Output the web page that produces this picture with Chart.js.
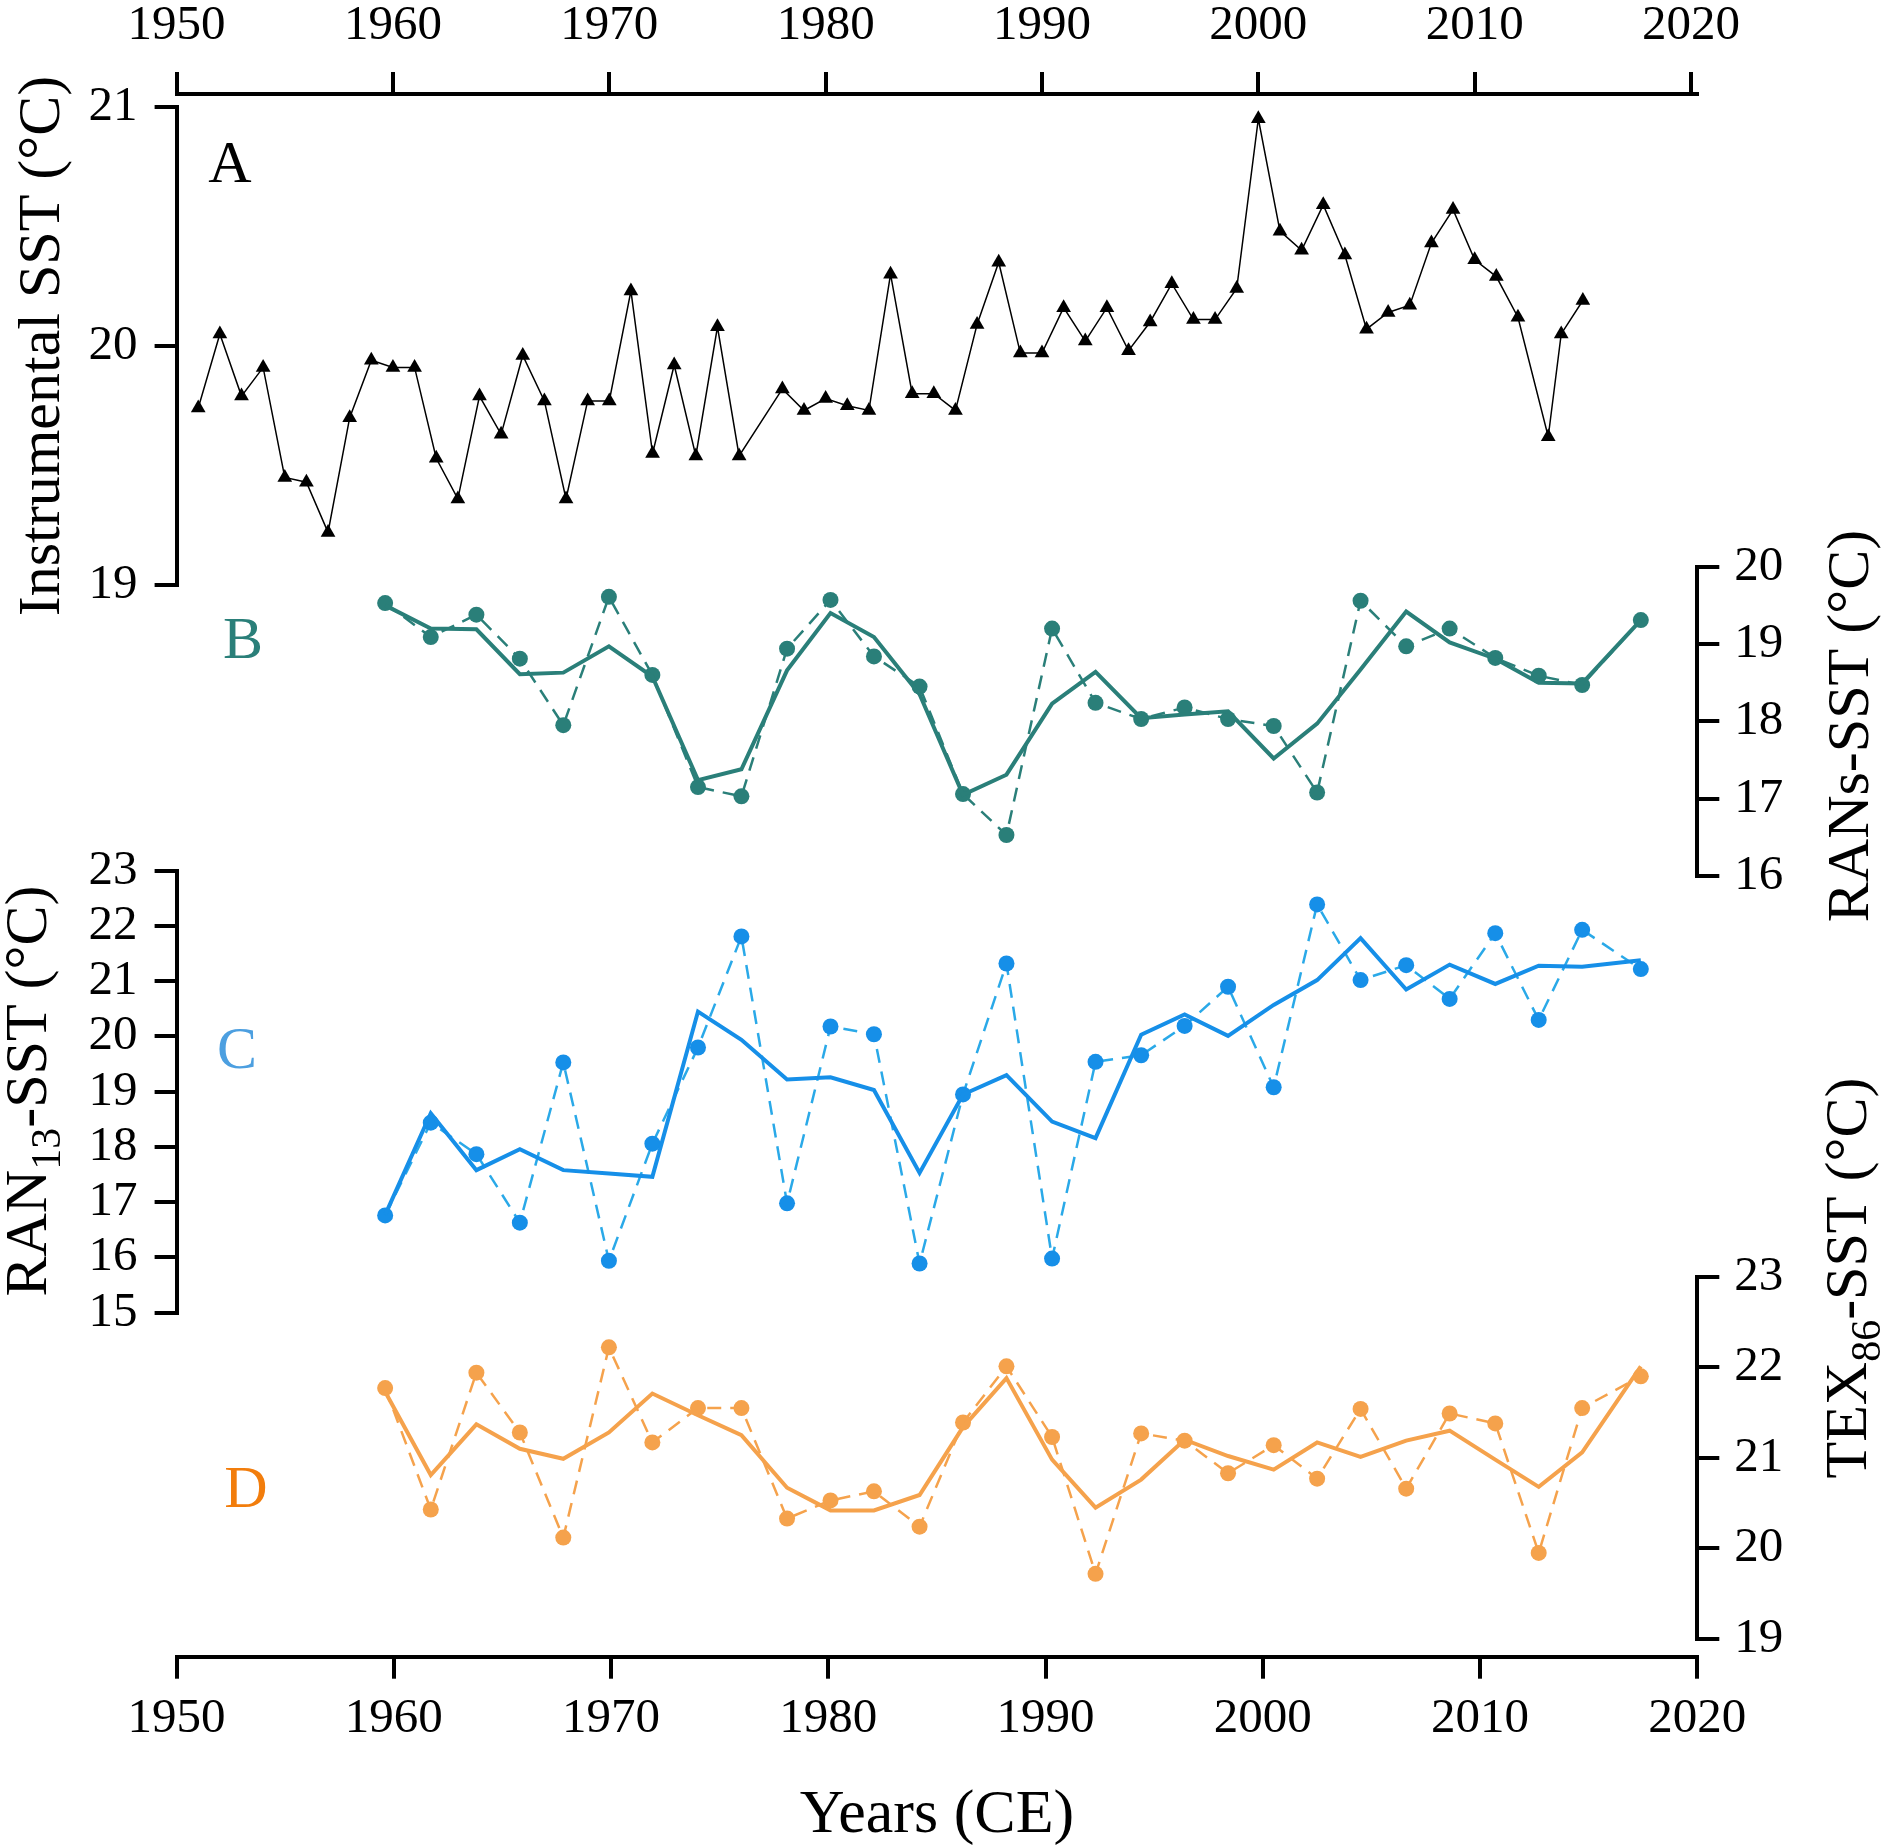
<!DOCTYPE html>
<html>
<head>
<meta charset="utf-8">
<title>SST records</title>
<script src="https://cdn.jsdelivr.net/npm/chart.js@4.4.1/dist/chart.umd.min.js"></script>
<style>
  html, body { margin: 0; padding: 0; background: #fff; }
  #wrap { width: 1890px; height: 1847px; position: relative; }
</style>
</head>
<body>
<div id="wrap"><canvas id="sst-chart"></canvas></div>
<script>
// panel A: instrumental record, one value per year (1977 missing)
const instYears = [1951, 1952, 1953, 1954, 1955, 1956, 1957, 1958, 1959, 1960,
  1961, 1962, 1963, 1964, 1965, 1966, 1967, 1968, 1969, 1970,
  1971, 1972, 1973, 1974, 1975, 1976, 1978, 1979, 1980,
  1981, 1982, 1983, 1984, 1985, 1986, 1987, 1988, 1989, 1990,
  1991, 1992, 1993, 1994, 1995, 1996, 1997, 1998, 1999, 2000,
  2001, 2002, 2003, 2004, 2005, 2006, 2007, 2008, 2009, 2010,
  2011, 2012, 2013.4, 2014, 2015];
const instSst = [19.74, 20.05, 19.79, 19.91, 19.45, 19.43, 19.22, 19.70, 19.94, 19.91,
  19.91, 19.53, 19.36, 19.79, 19.63, 19.96, 19.77, 19.36, 19.77, 19.77,
  20.23, 19.55, 19.92, 19.54, 20.08, 19.54, 19.82, 19.73, 19.78,
  19.75, 19.73, 20.30, 19.80, 19.80, 19.73, 20.09, 20.35, 19.97, 19.97,
  20.16, 20.02, 20.16, 19.98, 20.10, 20.26, 20.11, 20.11, 20.24, 20.95,
  20.48, 20.40, 20.59, 20.38, 20.07, 20.14, 20.17, 20.43, 20.57, 20.36,
  20.29, 20.12, 19.62, 20.05, 20.19];

// panels B-D: sediment samples (same ages for the three proxies)
const sampleYears = [1959.6, 1961.7, 1963.8, 1965.8, 1967.8, 1969.9, 1971.9, 1974.0, 1976.0, 1978.1,
  1980.1, 1982.1, 1984.2, 1986.2, 1988.2, 1990.3, 1992.3, 1994.4, 1996.4, 1998.4,
  2000.5, 2002.5, 2004.5, 2006.6, 2008.6, 2010.7, 2012.7, 2014.7, 2017.4];

const ransSst = [19.53, 19.09, 19.38, 18.81, 17.95, 19.61, 18.60, 17.15, 17.03, 18.94,
  19.57, 18.84, 18.45, 17.06, 16.53, 19.20, 18.24, 18.03, 18.18, 18.03,
  17.94, 17.08, 19.56, 18.97, 19.20, 18.82, 18.59, 18.47, 19.31];
const ransSmooth = [19.50, 19.20, 19.19, 18.61, 18.63, 18.97, 18.58, 17.24, 17.38, 18.66,
  19.40, 19.09, 18.35, 17.05, 17.31, 18.23, 18.64, 18.04, 18.09, 18.13,
  17.52, 17.97, 18.67, 19.42, 19.02, 18.81, 18.50, 18.49, 19.31];

const ran13Sst = [16.76, 18.44, 17.87, 16.63, 19.53, 15.94, 18.06, 19.80, 21.81, 16.98,
  20.18, 20.04, 15.89, 18.95, 21.32, 15.98, 19.54, 19.66, 20.19, 20.90,
  19.08, 22.39, 21.02, 21.29, 20.68, 21.87, 20.30, 21.93, 21.22];
const ran13Smooth = [16.77, 18.61, 17.58, 17.96, 17.58, 17.52, 17.46, 20.45, 19.94, 19.22,
  19.26, 19.03, 17.53, 18.95, 19.30, 18.46, 18.16, 20.03, 20.40, 20.01,
  20.57, 21.02, 21.78, 20.85, 21.30, 20.95, 21.28, 21.26, 21.38];

const tex86Sst = [21.77, 20.43, 21.94, 21.28, 20.12, 22.22, 21.17, 21.55, 21.55, 20.33,
  20.53, 20.63, 20.24, 21.39, 22.01, 21.23, 19.72, 21.27, 21.19, 20.83,
  21.14, 20.77, 21.54, 20.66, 21.49, 21.38, 19.95, 21.55, 21.90];
const tex86Smooth = [21.73, 20.81, 21.37, 21.10, 20.99, 21.28, 21.71, 21.47, 21.25, 20.67,
  20.42, 20.42, 20.59, 21.34, 21.88, 20.98, 20.45, 20.76, 21.20, 21.02,
  20.87, 21.17, 21.01, 21.19, 21.30, 20.98, 20.68, 21.06, 22.01];

// tick values
const yearTicks = [1950, 1960, 1970, 1980, 1990, 2000, 2010, 2020];
const ticksA = [19, 20, 21];
const ticksB = [16, 17, 18, 19, 20];
const ticksC = [15, 16, 17, 18, 19, 20, 21, 22, 23];
const ticksD = [19, 20, 21, 22, 23];

const serif = '"Liberation Serif", "Times New Roman", serif';
const TEAL = '#2a7f79';
const BLUE = '#168fe8';
const BLUE_DASH = '#2aa9e8';
const ORANGE = '#f5a24c';

// outer box sizes so the plot area lands where the figure has it
const LEFT_W = 176.6, RIGHT_W = 192.7, TOP_H = 94, BOTTOM_H = 190.3;

const toPoints = (xs, ys) => xs.map((x, i) => ({ x: x, y: ys[i] }));
const setTicks = vals => s => { s.ticks = vals.map(v => ({ value: v })); };

const axisLine = { display: true, color: '#000', width: 4 };
const axisGrid = { display: true, drawOnChartArea: false, drawTicks: true, tickLength: 22, lineWidth: 4, color: '#000' };
const tickFont = { family: serif, size: 49 };

function panelAxis(position, weight, stackWeight, vals) {
  return {
    type: 'linear',
    position: position,
    stack: 'panels',
    stackWeight: stackWeight,
    weight: weight,
    min: vals[0],
    max: vals[vals.length - 1],
    afterBuildTicks: setTicks(vals),
    afterFit: s => { s.width = position === 'left' ? LEFT_W : RIGHT_W; },
    border: axisLine,
    grid: axisGrid,
    ticks: { color: '#000', autoSkip: false, padding: position === 'left' ? 17 : 15, font: tickFont }
  };
}

// empty axes that only fill the gaps between the panels
function gapAxis(position, weight, stackWeight) {
  return {
    type: 'linear',
    position: position,
    stack: 'panels',
    stackWeight: stackWeight,
    weight: weight,
    min: 0,
    max: 1,
    afterFit: s => { s.width = position === 'left' ? LEFT_W : RIGHT_W; },
    border: { display: false },
    grid: { display: false },
    ticks: { display: false }
  };
}

const letters = [
  { text: 'A', x: 230, y: 166, color: '#000' },
  { text: 'B', x: 243, y: 642, color: TEAL },
  { text: 'C', x: 237, y: 1052, color: '#4c9fe0' },
  { text: 'D', x: 246, y: 1491, color: '#f27d0c' }
];
const sideTitles = [
  { parts: [['Instrumental SST (°C)']], x: 38.5, y: 346 },
  { parts: [['RANs-SST (°C)']], x: 1847.5, y: 726 },
  { parts: [['RAN'], ['13', true], ['-SST (°C)']], x: 26, y: 1091 },
  { parts: [['TEX'], ['86', true], ['-SST (°C)']], x: 1846, y: 1278 }
];

const panelText = {
  id: 'panelText',
  afterDraw(chart) {
    const ctx = chart.ctx;
    ctx.save();
    ctx.textAlign = 'center';
    ctx.textBaseline = 'middle';
    ctx.font = '60px ' + serif;
    letters.forEach(l => {
      ctx.fillStyle = l.color;
      ctx.fillText(l.text, l.x, l.y);
    });

    ctx.fillStyle = '#000';
    ctx.textAlign = 'left';
    ctx.textBaseline = 'alphabetic';
    sideTitles.forEach(t => {
      let total = 0;
      t.parts.forEach(p => {
        ctx.font = (p[1] ? '42px ' : '60px ') + serif;
        total += ctx.measureText(p[0]).width;
      });
      ctx.save();
      ctx.translate(t.x, t.y);
      ctx.rotate(-Math.PI / 2);
      let pos = -total / 2;
      t.parts.forEach(p => {
        ctx.font = (p[1] ? '42px ' : '60px ') + serif;
        ctx.fillText(p[0], pos, p[1] ? 34 : 20);
        pos += ctx.measureText(p[0]).width;
      });
      ctx.restore();
    });
    ctx.restore();
  }
};

function dashedSeries(label, values, yAxisID, lineColor, dotColor) {
  return {
    label: label,
    data: toPoints(sampleYears, values),
    xAxisID: 'x',
    yAxisID: yAxisID,
    borderColor: lineColor,
    borderWidth: 2.5,
    borderDash: [14, 9],
    pointRadius: 8,
    pointBorderWidth: 0,
    pointBackgroundColor: dotColor,
    fill: false,
    tension: 0
  };
}

function smoothSeries(label, values, yAxisID, color) {
  return {
    label: label,
    data: toPoints(sampleYears, values),
    xAxisID: 'x',
    yAxisID: yAxisID,
    borderColor: color,
    borderWidth: 4,
    pointRadius: 0,
    fill: false,
    tension: 0
  };
}

new Chart(document.getElementById('sst-chart'), {
  type: 'line',
  data: {
    datasets: [
      {
        label: 'Instrumental SST',
        data: toPoints(instYears, instSst),
        xAxisID: 'x2',
        yAxisID: 'yA',
        borderColor: '#000',
        borderWidth: 1.5,
        pointStyle: 'triangle',
        pointRadius: 8.5,
        pointBorderWidth: 0,
        pointBackgroundColor: '#000',
        fill: false,
        tension: 0
      },
      smoothSeries('RANs-SST smoothed', ransSmooth, 'yB', TEAL),
      dashedSeries('RANs-SST', ransSst, 'yB', TEAL, TEAL),
      smoothSeries('RAN13-SST smoothed', ran13Smooth, 'yC', BLUE),
      dashedSeries('RAN13-SST', ran13Sst, 'yC', BLUE_DASH, BLUE),
      smoothSeries('TEX86-SST smoothed', tex86Smooth, 'yD', ORANGE),
      dashedSeries('TEX86-SST', tex86Sst, 'yD', ORANGE, ORANGE)
    ]
  },
  options: {
    responsive: true,
    maintainAspectRatio: false,
    animation: false,
    events: [],
    layout: { padding: 0 },
    plugins: {
      legend: { display: false },
      tooltip: { enabled: false }
    },
    scales: {
      x: {
        type: 'linear',
        position: 'bottom',
        min: 1950,
        max: 2020,
        afterBuildTicks: setTicks(yearTicks),
        afterFit: s => { s.height = BOTTOM_H; },
        border: axisLine,
        grid: axisGrid,
        ticks: { color: '#000', padding: 11, autoSkip: false, maxRotation: 0, font: tickFont, callback: v => String(v) },
        title: { display: true, text: 'Years (CE)', color: '#000', padding: 0, font: { family: serif, size: 62, lineHeight: 1 } }
      },
      x2: {
        type: 'linear',
        position: 'top',
        min: 1950,
        max: 2020.29,
        afterBuildTicks: setTicks(yearTicks),
        afterFit: s => { s.height = TOP_H; },
        border: axisLine,
        grid: axisGrid,
        ticks: { color: '#000', padding: 16, autoSkip: false, maxRotation: 0, font: tickFont, callback: v => String(v) }
      },
      // left column, top to bottom: gap, A, gap, C, gap
      gL1: gapAxis('left', 5, 12.8),
      yA: panelAxis('left', 4, 478.2, ticksA),
      gL2: gapAxis('left', 3, 285.7),
      yC: panelAxis('left', 2, 442, ticksC),
      gL3: gapAxis('left', 1, 344),
      // right column, top to bottom: gap, B, gap, D, gap
      gR1: gapAxis('right', 1, 472.7),
      yB: panelAxis('right', 2, 309.3, ticksB),
      gR2: gapAxis('right', 3, 400.7),
      yD: panelAxis('right', 4, 362.3, ticksD),
      gR3: gapAxis('right', 5, 17.7)
    }
  },
  plugins: [panelText]
});
</script>
</body>
</html>
